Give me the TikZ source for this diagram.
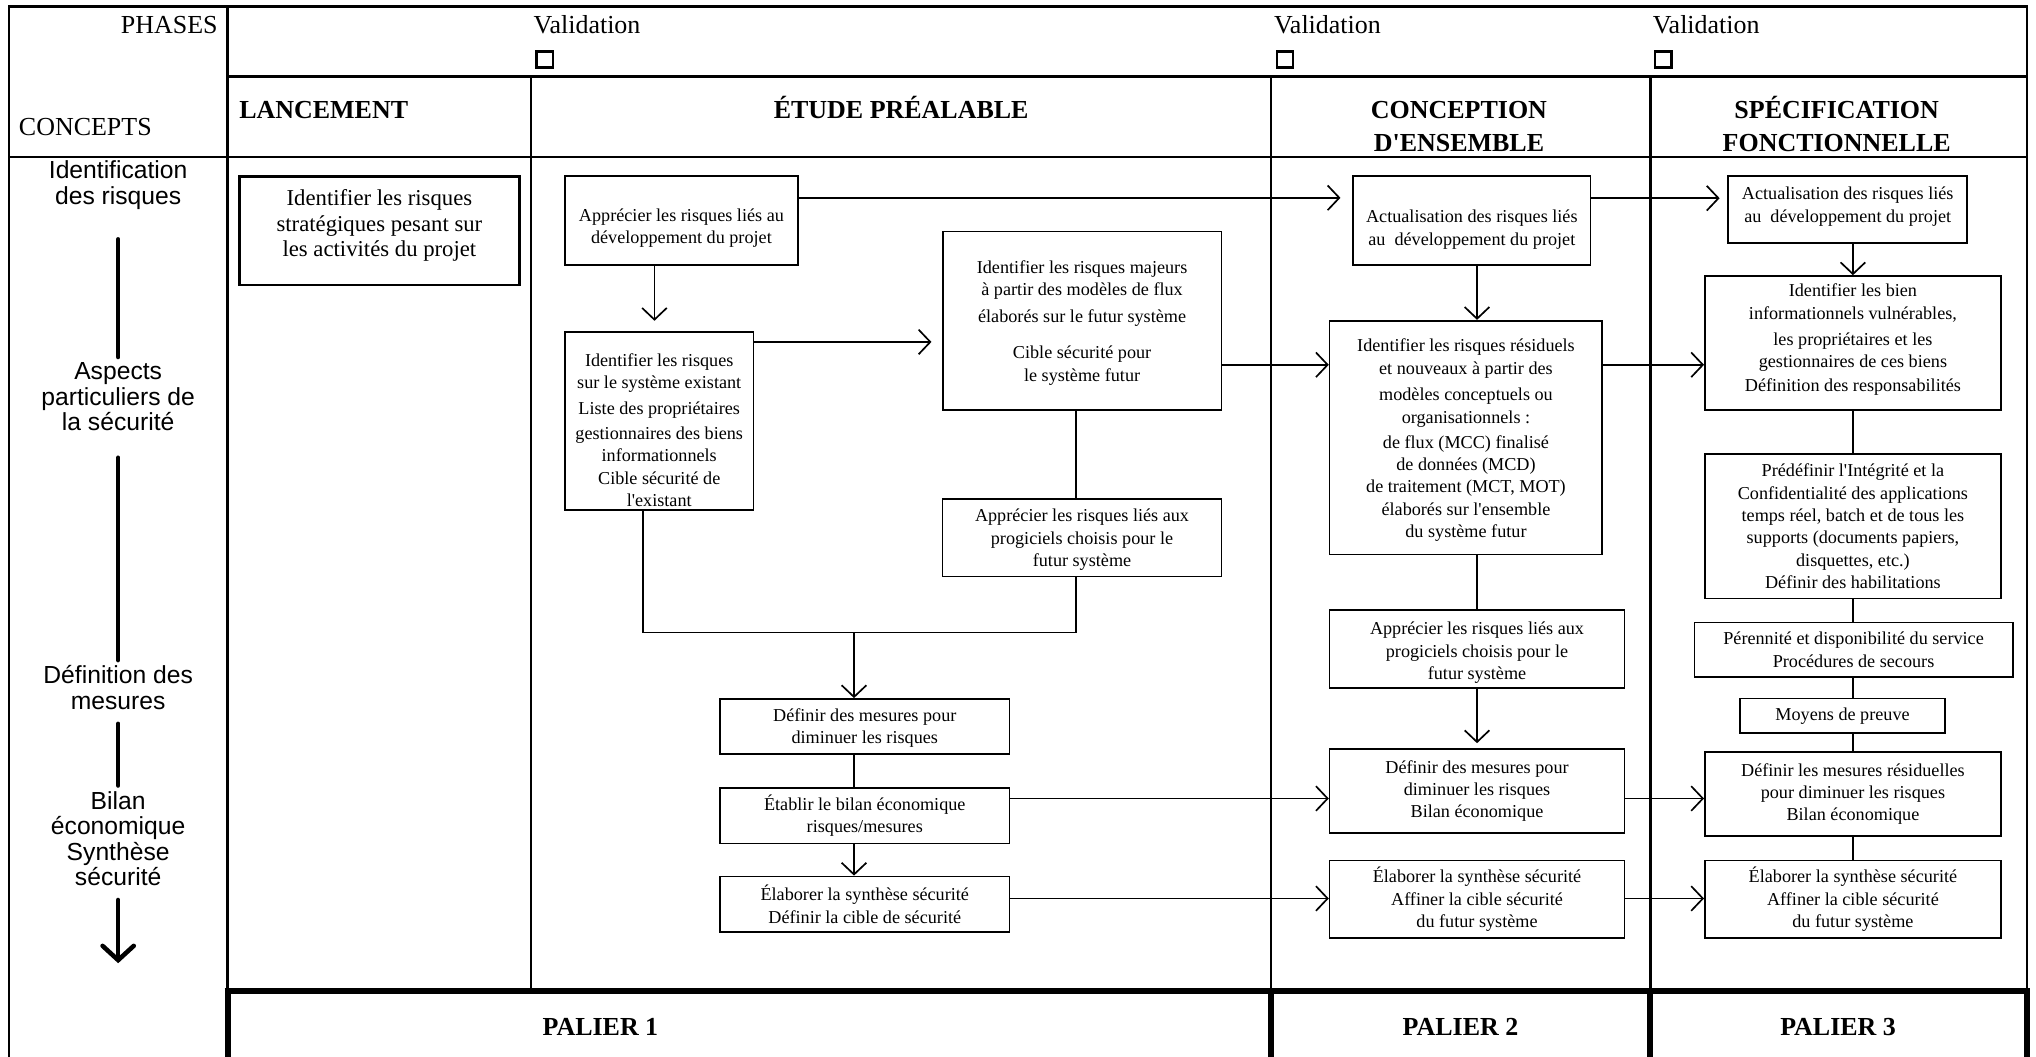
\documentclass[tikz,border=0pt]{standalone}
\usepackage{fontspec}
\setmainfont{Liberation Serif}[Ligatures=TeXOff]
\newfontfamily\arialfont{Liberation Sans}
\usetikzlibrary{arrows.meta,calc}
\newcommand\pushdown[1]{\rule{0pt}{#1}}
\newcommand\pushup[1]{\rule[-#1]{0pt}{#1}}
\begin{document}
\begin{tikzpicture}[x=1pt,y=-1pt,
  box/.style={draw,line width=1.3pt,align=center,inner sep=0pt,font=\fontsize{14}{17.2}\selectfont},
  bigbox/.style={draw,line width=2.2pt,align=center,inner sep=0pt,font=\fontsize{17.5}{19.5}\selectfont},
  link/.style={line width=1.3pt},
  arr/.style={line width=1.3pt,-{Straight Barb[length=9pt,width=19pt]}},
  rule/.style={line width=1.8pt},
  heavy/.style={line width=4.5pt},
  hdr/.style={font=\fontsize{20}{25}\selectfont\bfseries,inner sep=0pt,anchor=base},
  lbl/.style={font=\fontsize{20}{24}\selectfont,inner sep=0pt},
  concept/.style={font=\arialfont\fontsize{19}{19.5}\selectfont,align=center,inner sep=0pt},
  cline/.style={line width=3.5pt,line cap=round},
  chk/.style={draw,line width=1.8pt,minimum size=12.5pt,inner sep=0pt},
]
\useasboundingbox (0,0) rectangle (1568,814);

% ---------- table frame ----------
\draw[rule] (6.9,814) -- (6.9,5) -- (1561,5) -- (1561,763);
\draw[rule] (175.3,5) -- (175.3,763);
\draw[rule] (175.3,59) -- (1561,59);
\draw[rule] (6.9,120.7) -- (1561,120.7);
\draw[rule] (409,59) -- (409,763);
\draw[rule] (979,59) -- (979,763);
\draw[rule] (1271,59) -- (1271,763);
\draw[heavy] (173,763) -- (1563.2,763);
\draw[heavy] (175.3,763) -- (175.3,814);
\draw[heavy] (979,763) -- (979,814);
\draw[heavy] (1271,763) -- (1271,814);
\draw[heavy] (1561,763) -- (1561,814);

% ---------- header texts ----------
\node[lbl,anchor=east] (phases) at (167.8,19.3) {PHASES};
\node[lbl,anchor=west] (concepts) at (14.4,97.6) {CONCEPTS};
\node[lbl,anchor=west] (val1) at (410.8,19.3) {Validation};
\node[lbl,anchor=west] (val2) at (981,19.3) {Validation};
\node[lbl,anchor=west] (val3) at (1272.7,19.3) {Validation};
\node[chk] (chk1) at (419.4,45.8) {};
\node[chk] (chk2) at (989.5,45.8) {};
\node[chk] (chk3) at (1281,45.8) {};

\node[hdr,anchor=base west] (hlanc) at (184.1,91.3) {LANCEMENT};
\node[hdr] (hetude) at (694,91.3) {ÉTUDE PRÉALABLE};
\node[hdr] (hconc1) at (1123.6,91.3) {CONCEPTION};
\node[hdr] (hconc2) at (1123.6,116.3) {D'ENSEMBLE};
\node[hdr] (hspec1) at (1414.5,91.3) {SPÉCIFICATION};
\node[hdr] (hspec2) at (1414.5,116.3) {FONCTIONNELLE};

\node[hdr] (pal1) at (462.4,797.3) {PALIER 1};
\node[hdr] (pal2) at (1124.8,797.3) {PALIER 2};
\node[hdr] (pal3) at (1415.6,797.3) {PALIER 3};

% ---------- concepts column ----------
\node[concept] (lab1) at (91,142.5) {Identification\\des risques};
\node[concept] (lab2) at (91,305.5) {Aspects\\particuliers de\\la sécurité};
\node[concept] (lab3) at (91,529.6) {Définition des\\mesures};
\node[concept] (lab4) at (91,646) {Bilan\\économique\\Synthèse\\sécurité};
\coordinate (labend) at (91,741.8);
\draw[cline,shorten <=23pt,shorten >=4.2pt] (lab1.south) -- (lab2.north);
\draw[cline,shorten <=20.7pt,shorten >=4.2pt] (lab2.south) -- (lab3.north);
\draw[cline,shorten <=10.8pt,shorten >=4.6pt] (lab3.south) -- (lab4.north);
\draw[cline,shorten <=10.7pt,-{Straight Barb[length=11pt,width=24pt,line cap=round]}] (lab4.south) -- (labend);

% ---------- lancement ----------
\node[bigbox,minimum width=215.2pt,minimum height=83.5pt] (L0) at (292.2,177.75)
  {Identifier les risques\\stratégiques pesant sur\\les activités du projet\pushup{11.7pt}};

% ---------- étude préalable ----------
\node[box,minimum width=179.6pt,minimum height=68.4pt] (A) at (524.8,169.8)
  {\pushdown{21.8pt}Apprécier les risques liés au\\développement du projet};
\node[box,minimum width=145.4pt,minimum height=137.1pt] (B) at (507.7,324.25)
  {\pushdown{23.8pt}Identifier les risques\\sur le système existant\\[3pt]Liste des propriétaires\\[2pt]gestionnaires des biens\\informationnels\\Cible sécurité de\\l'existant};
\node[box,minimum width=214.7pt,minimum height=137.4pt] (C) at (833.35,247.1)
  {\pushdown{12.8pt}Identifier les risques majeurs\\à partir des modèles de flux\\[3.5pt]élaborés sur le futur système\\[11pt]Cible sécurité pour\\le système futur};
\node[box,minimum width=214.8pt,minimum height=59.7pt] (E) at (833.3,414.15)
  {\pushdown{12.8pt}Apprécier les risques liés aux\\progiciels choisis pour le\\futur système};
\node[box,minimum width=222.8pt,minimum height=42.6pt] (F) at (666,559.6)
  {\pushdown{11.8pt}Définir des mesures pour\\diminuer les risques};
\node[box,minimum width=222.8pt,minimum height=42.5pt] (G) at (666,628.25)
  {Établir le bilan économique\\risques/mesures};
\node[box,minimum width=222.8pt,minimum height=43pt] (H) at (666,696.5)
  {Élaborer la synthèse sécurité\\Définir la cible de sécurité};

% ---------- conception d'ensemble ----------
\node[box,minimum width=183pt,minimum height=68.4pt] (K) at (1133.5,169.8)
  {\pushdown{23.8pt}Actualisation des risques liés\\au~~développement du projet};
\node[box,minimum width=210pt,minimum height=180pt] (D) at (1129,337)
  {\pushdown{13.8pt}Identifier les risques résiduels\\et nouveaux à partir des\\[3.5pt]modèles conceptuels ou\\organisationnels :\\[2pt]de flux (MCC) finalisé\\de données (MCD)\\de traitement (MCT, MOT)\\élaborés sur l'ensemble\\du système futur};
\node[box,minimum width=227pt,minimum height=59.8pt] (L) at (1137.5,499.7)
  {\pushdown{15.8pt}Apprécier les risques liés aux\\progiciels choisis pour le\\futur système};
\node[box,minimum width=227pt,minimum height=64.3pt] (I) at (1137.5,609.15)
  {Définir des mesures pour\\diminuer les risques\\Bilan économique};
\node[box,minimum width=227pt,minimum height=59.8pt] (J) at (1137.5,692.7)
  {Élaborer la synthèse sécurité\\Affiner la cible sécurité\\du futur système};

% ---------- spécification fonctionnelle ----------
\node[box,minimum width=184pt,minimum height=51.3pt] (M) at (1423,161.25)
  {Actualisation des risques liés\\au~~développement du projet\pushup{7pt}};
\node[box,minimum width=228pt,minimum height=103.4pt] (N) at (1427,264.3)
  {Identifier les bien\\informationnels vulnérables,\\[3pt]les propriétaires et les\\gestionnaires de ces biens\\[1.5pt]Définition des responsabilités\pushup{8pt}};
\node[box,minimum width=228pt,minimum height=111.4pt] (O) at (1427,405.3)
  {Prédéfinir l'Intégrité et la\\Confidentialité des applications\\temps réel, batch et de tous les\\supports (documents papiers,\\disquettes, etc.)\\Définir des habilitations};
\node[box,minimum width=245pt,minimum height=41.9pt] (R) at (1427.5,500.45)
  {Pérennité et disponibilité du service\\Procédures de secours};
\node[box,minimum width=158pt,minimum height=26.3pt] (S) at (1419,551.15)
  {Moyens de preuve};
\node[box,minimum width=228pt,minimum height=64.8pt] (P) at (1427,611.4)
  {Définir les mesures résiduelles\\pour diminuer les risques\\Bilan économique};
\node[box,minimum width=228pt,minimum height=59.8pt] (Q) at (1427,692.7)
  {Élaborer la synthèse sécurité\\Affiner la cible sécurité\\du futur système};

% ---------- connectors: étude préalable ----------
\coordinate (xab) at (504,0);
\coordinate (j1) at (495,487);
\coordinate (j2) at (828.7,487);
\coordinate (j3) at (657.7,487);
\draw[arr,shorten >=9pt] ([yshift=-17.4pt]A.north east) -- ([yshift=-17.4pt]A.north east -| K.west);
\draw[arr,shorten >=8pt] (A.south -| xab) -- (B.north -| xab);
\draw[arr,shorten >=8pt] ([yshift=-8.3pt]B.north east) -- ([yshift=-8.3pt]B.north east -| C.west);
\draw[arr] ([yshift=-103.2pt]C.north east) -- ([yshift=-103.2pt]C.north east -| D.west);
\draw[link] (C.south -| j2) -- (E.north -| j2);
\draw[link] (B.south -| j1) -- (j1) -- (j2) -- (E.south -| j2);
\draw[arr] (j3) -- (F.north -| j3);
\draw[link] (F.south -| j3) -- (G.north -| j3);
\draw[arr] (G.south -| j3) -- (H.north -| j3);
\draw[arr] ([yshift=-8.6pt]G.north east) -- ([yshift=-8.6pt]G.north east -| I.west);
\draw[arr] ([yshift=-17.6pt]H.north east) -- ([yshift=-17.6pt]H.north east -| J.west);

% ---------- connectors: conception ----------
\draw[arr] (K.south -| L) -- (D.north -| L);
\draw[link] (D.south -| L) -- (L.north);
\draw[arr,shorten >=4pt] (L.south) -- (I.north);
\draw[arr,shorten >=6pt] ([yshift=-17.7pt]K.north east) -- ([yshift=-17.7pt]K.north east -| M.west);
\draw[arr] ([yshift=-34.6pt]D.north east) -- ([yshift=-34.6pt]D.north east -| N.west);
\draw[arr] ([yshift=-38.6pt]I.north east) -- ([yshift=-38.6pt]I.north east -| P.west);
\draw[arr] ([yshift=-29.8pt]J.north east) -- ([yshift=-29.8pt]J.north east -| Q.west);

% ---------- connectors: spécification ----------
\draw[arr] (M.south -| N) -- (N.north);
\draw[link] (N.south) -- (O.north);
\draw[link] (O.south) -- (R.north -| O);
\draw[link] (R.south -| O) -- (S.north -| O);
\draw[link] (S.south -| O) -- (P.north);
\draw[link] (P.south) -- (Q.north);
\end{tikzpicture}
\end{document}
